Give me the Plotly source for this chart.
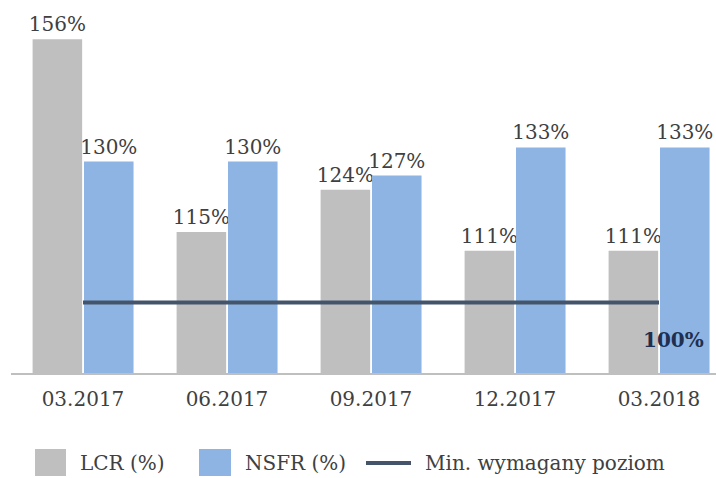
import plotly.graph_objects as go

categories = ["03.2017", "06.2017", "09.2017", "12.2017", "03.2018"]
lcr = [156, 115, 124, 111, 111]
nsfr = [130, 130, 127, 133, 133]
min_level = [100, 100, 100, 100, 100]
legend_labels = ["LCR (%)", "NSFR (%)", "Min. wymagany poziom"]

GREY = "#BFBFBF"
BLUE = "#8DB4E2"
NAVY = "#44546A"
TXT = "#404040"
FONT = "DejaVu Serif"

W, H = 716.0, 478.0
ML, MB = 11, 105
plot_w = W - ML
plot_h = H - MB

fig = go.Figure()
fig.add_trace(go.Bar(
    x=categories, y=lcr, name=legend_labels[0], marker=dict(color=GREY, line=dict(width=0)),
    width=0.344, offset=-0.35,
    texttemplate="%{y:.0f}%", textposition="outside", cliponaxis=False, constraintext="none",
    textfont=dict(family=FONT, size=20, color=TXT), showlegend=False,
))
fig.add_trace(go.Bar(
    x=categories, y=nsfr, name=legend_labels[1], marker=dict(color=BLUE, line=dict(width=0)),
    width=0.344, offset=0.007,
    texttemplate="%{y:.0f}%", textposition="outside", cliponaxis=False, constraintext="none",
    textfont=dict(family=FONT, size=20, color=TXT), showlegend=False,
))
fig.add_trace(go.Scatter(
    x=categories, y=min_level, mode="lines", name=legend_labels[2],
    line=dict(color=NAVY, width=4), showlegend=False,
))

# "100%" label next to the last point of the minimum-level line
fig.add_annotation(
    x=len(categories) - 1, y=min_level[-1], xref="x", yref="y",
    text="<b>%d%%</b>" % min_level[-1], showarrow=False, xshift=14, yshift=-37,
    font=dict(family=FONT, size=20, color="#1F2F4F"),
)

# manual legend, given in canvas pixels, converted to plot-area paper coords
def cx(x):
    return (x - ML) / plot_w
def cy(y):
    return ((H - y) - MB) / plot_h

shapes = [
    dict(type="rect", xref="paper", yref="paper", x0=cx(35), x1=cx(66), y0=cy(476), y1=cy(449),
         fillcolor=GREY, line=dict(width=0)),
    dict(type="rect", xref="paper", yref="paper", x0=cx(199), x1=cx(231), y0=cy(476), y1=cy(449),
         fillcolor=BLUE, line=dict(width=0)),
    dict(type="line", xref="paper", yref="paper", x0=cx(366), x1=cx(411), y0=cy(463), y1=cy(463),
         line=dict(color=NAVY, width=4)),
]
for x0, t in [(78, legend_labels[0]), (243, legend_labels[1]), (423, legend_labels[2])]:
    fig.add_annotation(x=cx(x0), y=cy(463), xref="paper", yref="paper", text=t,
                       showarrow=False, xanchor="left", yanchor="middle",
                       font=dict(family=FONT, size=20, color=TXT))

fig.update_layout(
    width=716, height=478,
    margin=dict(l=ML, r=0, t=0, b=MB, autoexpand=False),
    paper_bgcolor="white", plot_bgcolor="white",
    shapes=shapes,
    barmode="group",
)

fig.update_xaxes(
    type="category", range=[-0.5, -0.5 + plot_w / 144.0],
    showline=True, linecolor="#BFBFBF", linewidth=2, ticks="", showgrid=False,
    tickfont=dict(family=FONT, size=20, color=TXT), automargin=False,
    ticklabelstandoff=7,
)
fig.update_yaxes(
    range=[85, 85 + plot_h / 4.7], visible=False, showgrid=False, zeroline=False,
)

fig.write_html("out.html", config={"displayModeBar": False},
               post_script="document.body.style.margin='0';")
